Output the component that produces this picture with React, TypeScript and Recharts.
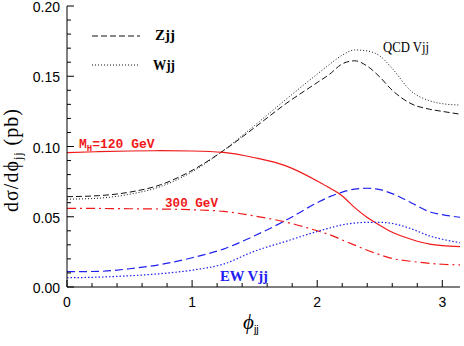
import React from "react";
import { LineChart, Line, XAxis, YAxis } from "recharts";

// ---------- data ----------
const phi = [0, 0.25, 0.5, 0.75, 1.0, 1.25, 1.5, 1.75, 2.0, 2.1, 2.2, 2.3, 2.4, 2.5, 2.6, 2.75, 2.9, 3.0, 3.1416];

const qcdZjj = [0.0643, 0.065, 0.0675, 0.0728, 0.083, 0.097, 0.1135, 0.1305, 0.1455, 0.1515, 0.1588, 0.161, 0.1572, 0.1495, 0.14, 0.1305, 0.1265, 0.125, 0.123];
const qcdWjj = [0.0625, 0.0632, 0.066, 0.0715, 0.082, 0.0972, 0.115, 0.1335, 0.1515, 0.1585, 0.165, 0.1687, 0.168, 0.1645, 0.1555, 0.1395, 0.1325, 0.1305, 0.1295];
const higgs120 = [0.0957, 0.0963, 0.0968, 0.097, 0.0968, 0.0958, 0.092, 0.0862, 0.0755, 0.0705, 0.0648, 0.0565, 0.0495, 0.044, 0.039, 0.034, 0.0305, 0.0294, 0.0288];
const higgs300 = [0.056, 0.0559, 0.0557, 0.0555, 0.055, 0.0538, 0.0505, 0.0462, 0.04, 0.0372, 0.0335, 0.0298, 0.0262, 0.023, 0.0203, 0.0183, 0.0168, 0.0162, 0.0157];
const ewZjj = [0.0109, 0.0111, 0.013, 0.016, 0.0208, 0.027, 0.0365, 0.0475, 0.06, 0.0643, 0.0675, 0.0697, 0.0703, 0.0693, 0.0665, 0.06, 0.0535, 0.0515, 0.0496];
const ewWjj = [0.0066, 0.007, 0.008, 0.0095, 0.012, 0.0163, 0.0255, 0.0325, 0.0395, 0.042, 0.0442, 0.0455, 0.046, 0.046, 0.0452, 0.0415, 0.0363, 0.034, 0.0315];

const xTicks = [0, 0.2, 0.4, 0.6, 0.8, 1, 1.2, 1.4, 1.6, 1.8, 2, 2.2, 2.4, 2.6, 2.8, 3];
const xLabeled = [0, 1, 2, 3];
const yTicks = [0, 0.01, 0.02, 0.03, 0.04, 0.05, 0.06, 0.07, 0.08, 0.09, 0.1, 0.11, 0.12, 0.13, 0.14, 0.15, 0.16, 0.17, 0.18, 0.19, 0.2];
const yLabeled = [0, 0.05, 0.1, 0.15, 0.2];

const data = phi.map((p, i) => ({
  phi: p,
  qcdZjj: qcdZjj[i],
  qcdWjj: qcdWjj[i],
  higgs120: higgs120[i],
  higgs300: higgs300[i],
  ewZjj: ewZjj[i],
  ewWjj: ewWjj[i],
}));

// ---------- layout ----------
const W = 464;
const H = 346;
const PL = 67;
const PT = 6;
const PR = 460;
const PB = 287;
const MAJ = 7;
const MIN = 4;
const RED = "#f01818";
const BLUE = "#2020f0";
const SANS = "'Liberation Sans', Arial, sans-serif";
const SERIF = "'Liberation Serif', 'Times New Roman', serif";
const MONO = "'Liberation Mono', 'Courier New', monospace";

const near = (a: number, list: number[]) => list.some((v) => Math.abs(v - a) < 1e-6);

const BottomTick = (props: any) => {
  const { x, payload } = props;
  const major = near(payload.value, xLabeled);
  return (
    <g>
      <line x1={x} x2={x} y1={PB} y2={PB - (major ? MAJ : MIN)} stroke="#000" strokeWidth={1} />
      {major && (
        <text x={x} y={PB + 20} textAnchor="middle" fontFamily={SANS} fontSize={14} fill="#000">
          {String(payload.value)}
        </text>
      )}
    </g>
  );
};

const TopTick = (props: any) => {
  const { x, payload } = props;
  const major = near(payload.value, xLabeled);
  return <line x1={x} x2={x} y1={PT} y2={PT + (major ? MAJ : MIN)} stroke="#000" strokeWidth={1} />;
};

const LeftTick = (props: any) => {
  const { y, payload } = props;
  const major = near(payload.value, yLabeled);
  return (
    <g>
      <line x1={PL} x2={PL + (major ? MAJ : MIN)} y1={y} y2={y} stroke="#000" strokeWidth={1} />
      {major && (
        <text x={PL - 7} y={y + 6} textAnchor="end" fontFamily={SANS} fontSize={14} fill="#000">
          {payload.value.toFixed(2)}
        </text>
      )}
    </g>
  );
};

const RightTick = (props: any) => {
  const { y, payload } = props;
  const major = near(payload.value, yLabeled);
  return <line x1={PR} x2={PR - (major ? MAJ : MIN)} y1={y} y2={y} stroke="#000" strokeWidth={1} />;
};

export default function App() {
  return (
    <div style={{ position: "absolute", left: 0, top: 0, width: W, height: H, background: "#fff" }}>
      <LineChart width={W} height={H} data={data} margin={{ top: PT, right: W - PR, left: 0, bottom: 0 }}>
        <XAxis
          xAxisId="b"
          dataKey="phi"
          type="number"
          domain={[0, Math.PI]}
          ticks={xTicks}
          interval={0}
          orientation="bottom"
          height={H - PB}
          tickSize={0}
          tickMargin={0}
          tickLine={false}
          axisLine={{ stroke: "#000", strokeWidth: 1 }}
          tick={<BottomTick />}
          allowDataOverflow
        />
        <XAxis
          xAxisId="t"
          dataKey="phi"
          type="number"
          domain={[0, Math.PI]}
          ticks={xTicks}
          interval={0}
          orientation="top"
          height={0}
          tickSize={0}
          tickMargin={0}
          tickLine={false}
          axisLine={{ stroke: "#000", strokeWidth: 1 }}
          tick={<TopTick />}
          allowDataOverflow
        />
        <YAxis
          yAxisId="l"
          type="number"
          domain={[0, 0.2]}
          ticks={yTicks}
          interval={0}
          orientation="left"
          width={PL}
          tickSize={0}
          tickMargin={0}
          tickLine={false}
          axisLine={{ stroke: "#000", strokeWidth: 1 }}
          tick={<LeftTick />}
          allowDataOverflow
        />
        <YAxis
          yAxisId="r"
          type="number"
          domain={[0, 0.2]}
          ticks={yTicks}
          interval={0}
          orientation="right"
          width={0}
          tickSize={0}
          tickMargin={0}
          tickLine={false}
          axisLine={{ stroke: "#000", strokeWidth: 1 }}
          tick={<RightTick />}
          allowDataOverflow
        />
        <Line xAxisId="b" yAxisId="l" type="monotone" dataKey="qcdZjj" stroke="#111" strokeWidth={1} strokeDasharray="6 3" dot={false} isAnimationActive={false} />
        <Line xAxisId="b" yAxisId="l" type="monotone" dataKey="qcdWjj" stroke="#111" strokeWidth={1} strokeDasharray="1 2" dot={false} isAnimationActive={false} />
        <Line xAxisId="b" yAxisId="l" type="monotone" dataKey="higgs120" stroke={RED} strokeWidth={1.2} dot={false} isAnimationActive={false} />
        <Line xAxisId="b" yAxisId="l" type="monotone" dataKey="higgs300" stroke={RED} strokeWidth={1.2} strokeDasharray="9 4 2 4" dot={false} isAnimationActive={false} />
        <Line xAxisId="b" yAxisId="l" type="monotone" dataKey="ewZjj" stroke={BLUE} strokeWidth={1.2} strokeDasharray="8 4" dot={false} isAnimationActive={false} />
        <Line xAxisId="b" yAxisId="l" type="monotone" dataKey="ewWjj" stroke={BLUE} strokeWidth={1.2} strokeDasharray="1.5 2" dot={false} isAnimationActive={false} />
      </LineChart>
      <svg width={W} height={H} style={{ position: "absolute", left: 0, top: 0, pointerEvents: "none" }}>
        {/* legend */}
        <line x1={92} x2={140} y1={36} y2={36} stroke="#111" strokeWidth={1} strokeDasharray="6 3" />
        <text x={155} y={40} fontFamily={SERIF} fontSize={14} fontWeight="bold" fill="#000" textLength={20} lengthAdjust="spacingAndGlyphs">Zjj</text>
        <line x1={92} x2={140} y1={65} y2={65} stroke="#111" strokeWidth={1} strokeDasharray="1 2" />
        <text x={153} y={69.5} fontFamily={SERIF} fontSize={14} fontWeight="bold" fill="#000" textLength={22} lengthAdjust="spacingAndGlyphs">Wjj</text>
        <text x={383} y={51.5} fontFamily={SERIF} fontSize={14} fill="#000" textLength={46} lengthAdjust="spacingAndGlyphs">QCD Vjj</text>
        {/* annotations */}
        <text x={79} y={148} fontFamily={MONO} fontSize={13} fontWeight="bold" fill={RED}>
          M<tspan fontSize={9} dy={3}>H</tspan><tspan dy={-3}>=120 GeV</tspan>
        </text>
        <text x={165} y={207} fontFamily={MONO} fontSize={13} fontWeight="bold" fill={RED} textLength={53} lengthAdjust="spacingAndGlyphs">300 GeV</text>
        <text x={220} y={280.5} fontFamily={SERIF} fontSize={14} fontWeight="bold" fill={BLUE} textLength={48} lengthAdjust="spacingAndGlyphs">EW Vjj</text>
        {/* axis titles */}
        <text x={243} y={329} fontFamily={SERIF} fontStyle="italic" fontSize={21} fill="#000">
          {"\u03D5"}<tspan fontFamily={SANS} fontStyle="normal" fontSize={11} dy={4}>jj</tspan>
        </text>
        <text
          transform="translate(18,160) rotate(-90)"
          textAnchor="middle"
          fontFamily={SERIF}
          fontSize={20}
          fill="#000"
          letterSpacing={1}
        >
          {"d\u03C3/d\u03D5"}<tspan fontSize={12} dy={4}>jj</tspan><tspan dy={-4}>{"  (pb)"}</tspan>
        </text>
      </svg>
    </div>
  );
}
